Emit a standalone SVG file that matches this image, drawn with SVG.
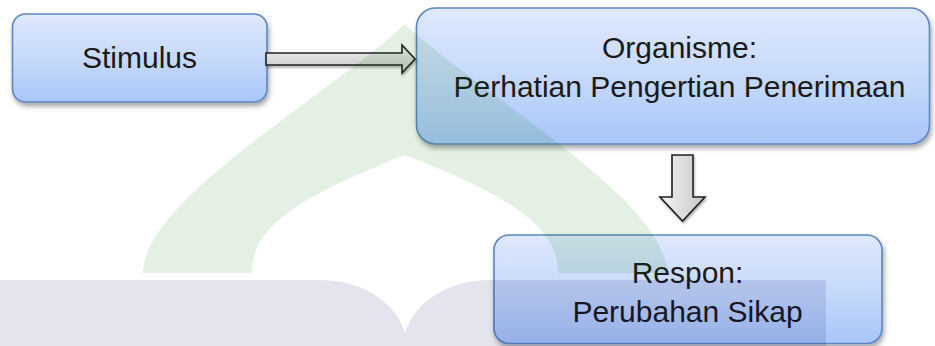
<svg xmlns="http://www.w3.org/2000/svg" width="935" height="346" viewBox="0 0 935 346">
  <style>
    .box { stroke: #5b86c2; stroke-width: 1.6; filter: url(#shadow); }
    .label { font-family: "Liberation Sans", Arial, sans-serif; font-size: 30px; fill: #1a1a1a; text-anchor: middle; }
    .arrow { stroke: #1f1f1f; stroke-width: 1.6; stroke-linejoin: miter; filter: url(#arrowShadow); }
    .mark-green { fill: rgb(0, 110, 0); fill-opacity: 0.105; }
    .mark-grey { fill: rgb(0, 0, 100); fill-opacity: 0.105; }
  </style>
  <defs>
    <linearGradient id="boxFill" x1="0" y1="0" x2="0" y2="1">
      <stop offset="0" stop-color="#dfe9fc"/>
      <stop offset="0.55" stop-color="#c4d8fb"/>
      <stop offset="1" stop-color="#a8c6f8"/>
    </linearGradient>
    <linearGradient id="shaftH" x1="0" y1="0" x2="0" y2="1">
      <stop offset="0" stop-color="#f2f2f2"/>
      <stop offset="1" stop-color="#c4c4c4"/>
    </linearGradient>
    <linearGradient id="shaftV" x1="0" y1="0" x2="1" y2="0">
      <stop offset="0" stop-color="#f4f4f4"/>
      <stop offset="1" stop-color="#c6c6c6"/>
    </linearGradient>
    <filter id="shadow" x="-10%" y="-10%" width="125%" height="135%">
      <feDropShadow dx="1.5" dy="3.5" stdDeviation="2.5" flood-color="#000" flood-opacity="0.35"/>
    </filter>
    <filter id="arrowShadow" x="-10%" y="-20%" width="130%" height="150%">
      <feDropShadow dx="1" dy="2" stdDeviation="1.2" flood-color="#000" flood-opacity="0.3"/>
    </filter>
  </defs>

  <rect width="935" height="346" fill="#ffffff"/>

  <!-- nodes -->
  <g id="stimulus">
    <rect class="box" x="12.5" y="14" width="254.5" height="88" rx="13" fill="url(#boxFill)"/>
    <text class="label" x="139.5" y="68">Stimulus</text>
  </g>
  <g id="organisme">
    <rect class="box" x="416.5" y="8" width="513" height="136" rx="19" fill="url(#boxFill)"/>
    <text class="label" x="679.5" y="58">Organisme:</text>
    <text class="label" x="679.5" y="97">Perhatian Pengertian Penerimaan</text>
  </g>
  <g id="respon">
    <rect class="box" x="494" y="235" width="388" height="108.5" rx="15" fill="url(#boxFill)"/>
    <text class="label" x="687.5" y="283">Respon:</text>
    <text class="label" x="687.5" y="322">Perubahan Sikap</text>
  </g>

  <!-- connectors: block arrows -->
  <g id="connectors">
    <path class="arrow" d="M266,53 L402,53 L402,45 L415,59 L402,73 L402,65 L266,65 Z" fill="url(#shaftH)"/>
    <path class="arrow" d="M672,155 L693,155 L693,197 L705,197 L682.5,221 L660,197 L672,197 Z" fill="url(#shaftV)"/>
  </g>

  <!-- faint background emblem: pointed arch over an open book -->
  <g id="emblem">
    <path class="mark-green" fill-rule="evenodd" d="M143,273 C143,200 330,95 405,24 C480,95 667,200 667,273 Z M252,273 C252,230 290,200 405,155 C520,200 558,230 558,273 Z"/>
    <path class="mark-grey" d="M0,280 L320,280 C360,280 395,300 405,333 L405,346 L0,346 Z"/>
    <path class="mark-grey" d="M405,346 L405,333 C415,300 450,280 490,280 L826,280 L826,346 Z"/>
  </g>
</svg>
